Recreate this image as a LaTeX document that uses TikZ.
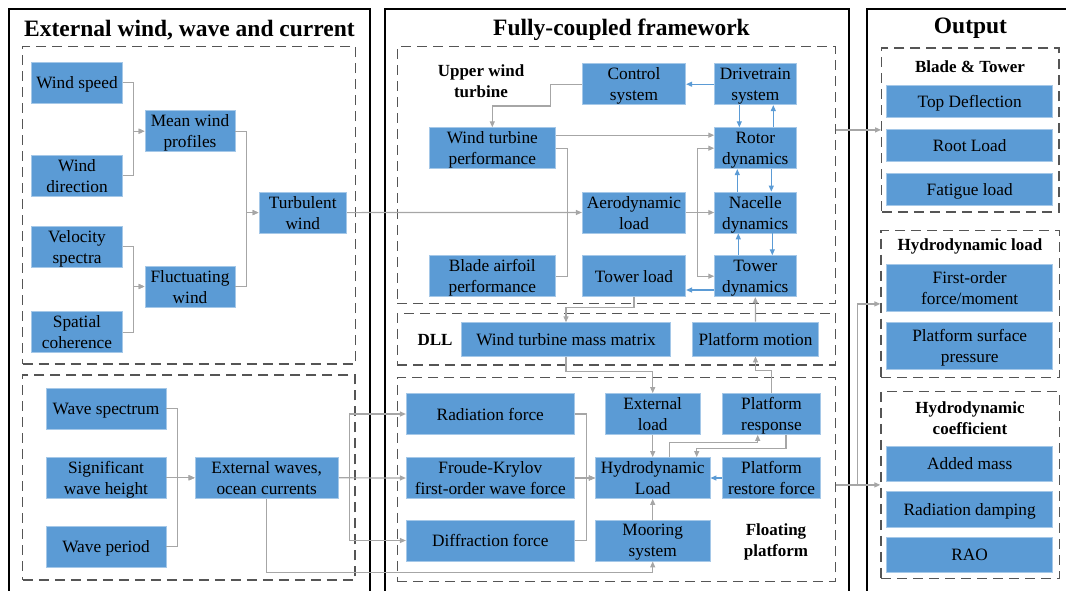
\documentclass[tikz,border=0pt]{standalone}
\usepackage{fontspec}
\setmainfont{Liberation Serif}
\usepackage{tikz}
\usetikzlibrary{calc,arrows.meta}
\definecolor{sblue}{HTML}{5B9BD5}
\definecolor{sline}{HTML}{A6A6A6}
\definecolor{sdash}{HTML}{555555}

\begin{document}
\begin{tikzpicture}[x=1pt, y=-1pt,
    BOX/.style={rectangle, fill=sblue, draw=sblue!55!white, line width=0.8pt, minimum height=41pt, inner sep=1pt, text depth=0pt, align=center, font=\fontsize{17.3}{21}\selectfont},
    FRM/.style={rectangle, draw=sdash, line width=1.4pt, dash pattern=on 10pt off 6pt, inner sep=0pt},
    PNL/.style={draw=black, line width=2pt},
    TTL/.style={font=\fontsize{23.5}{26}\selectfont\bfseries},
    LBL/.style={font=\fontsize{17}{21}\selectfont\bfseries, align=center},
    GAR/.style={draw=sline, line width=1.2pt, -{Triangle[width=5pt,length=6pt]}},
    GLN/.style={draw=sline, line width=1.2pt},
    BAR/.style={draw=sblue, line width=1.2pt, -{Triangle[width=5pt,length=6pt]}}
    ]
    \useasboundingbox (0,0) rectangle (1066,590);
    % panels
    \draw[PNL] (9,600) -- (9,8.5) -- (369.5,8.5) -- (369.5,600);
    \draw[PNL] (385,600) -- (385,8.5) -- (848.5,8.5) -- (848.5,600);
    \draw[PNL] (866.5,600) -- (866.5,8.5) -- (1070,8.5);
    \node[TTL] (t1) at (189.5,30) {External wind, wave and current};
    \node[TTL] (t2) at (621.5,30) {Fully-coupled framework};
    \node[TTL] (t3) at (970.5,28) {Output};

    % dashed groups
    \node[FRM, minimum width=333pt, minimum height=317.3pt] (wifrm) at (189.2,205.4) {};
    \node[FRM, minimum width=332.3pt, minimum height=205pt] (wafrm) at (188.9,477.5) {};
    \node[FRM, minimum width=438.4pt, minimum height=256.6pt] (upfrm) at (616.5,175) {};
    \node[FRM, minimum width=438.4pt, minimum height=51.7pt] (dlfrm) at (616.5,339.2) {};
    \node[FRM, minimum width=438.4pt, minimum height=204pt] (flfrm) at (616.5,479.7) {};
    \node[FRM, minimum width=177.3pt, minimum height=164.1pt] (btfrm) at (970.4,129.9) {};
    \node[FRM, minimum width=178.3pt, minimum height=147.2pt] (hlfrm) at (970.2,303.9) {};
    \node[FRM, minimum width=178.3pt, minimum height=186.9pt] (cofrm) at (970.2,484.9) {};
    \node[LBL] (uwt) at (481,81) {Upper wind\\turbine};
    \node[LBL] (dll) at (435,339.5) {DLL};
    \node[LBL] (fpl) at (776,542) {Floating\\platform};
    \node[LBL] (lbt) at (970,67) {Blade \& Tower};
    \node[LBL] (lhl) at (970,246.5) {Hydrodynamic load};
    \node[LBL] (lco) at (970,418.5) {Hydrodynamic\\coefficient};

    % wind
    \node[BOX, minimum width=90.6pt] (wspd) at (77,82.8) {Wind speed};
    \node[BOX, minimum width=90.6pt] (wdir) at ($(wspd)+(0,92.7)$) {Wind\\direction};
    \node[BOX, minimum width=90.6pt] (vspec) at (77,246.7) {Velocity\\spectra};
    \node[BOX, minimum width=90.6pt] (spco) at ($(vspec)+(0,85.5)$) {Spatial\\coherence};
    \node[BOX, minimum width=90pt] (meanw) at (190,131.2) {Mean wind\\profiles};
    \node[BOX, minimum width=90pt] (fluct) at (190,286.5) {Fluctuating\\wind};
    \node[BOX, minimum width=87.7pt] (turb) at (302.8,212.6) {Turbulent\\wind};

    % waves
    \node[BOX, minimum width=120pt] (wspec) at (106,408.8) {Wave spectrum};
    \node[BOX, minimum width=120pt] (sigw) at ($(wspec)+(0,69)$) {Significant\\wave height};
    \node[BOX, minimum width=120pt] (wper) at ($(sigw)+(0,68.9)$) {Wave period};
    \node[BOX, minimum width=143.3pt] (extw) at (266.7,477.8) {External waves,\\ocean currents};

    % upper wind turbine
    \node[BOX, minimum width=103.4pt] (ctrl) at (634,84.2) {Control\\system};
    \node[BOX, minimum width=81.3pt] (drive) at (755.3,84.2) {Drivetrain\\system};
    \node[BOX, minimum width=126pt] (wtp) at (492.3,148.2) {Wind turbine\\performance};
    \node[BOX, minimum width=81.3pt] (rotor) at (755.3,148.2) {Rotor\\dynamics};
    \node[BOX, minimum width=103.4pt] (aero) at (634,212.5) {Aerodynamic\\load};
    \node[BOX, minimum width=81.3pt] (nac) at (755.3,212.5) {Nacelle\\dynamics};
    \node[BOX, minimum width=126pt] (blade) at (492.3,276.2) {Blade airfoil\\performance};
    \node[BOX, minimum width=103.4pt] (towl) at (634,276.2) {Tower load};
    \node[BOX, minimum width=81.3pt] (towd) at (755.3,276.2) {Tower\\dynamics};

    % DLL
    \node[BOX, minimum width=209.4pt, minimum height=34pt] (matrix) at (566,339.7) {Wind turbine mass matrix};
    \node[BOX, minimum width=125.6pt, minimum height=34pt] (pmot) at (755.5,339) {Platform motion};

    % floating platform
    \node[BOX, minimum width=168pt] (rad) at (490.3,414) {Radiation force};
    \node[BOX, minimum width=168pt] (fk) at (490.3,478) {Froude-Krylov\\first-order wave force};
    \node[BOX, minimum width=168pt] (diff) at (490.3,540.5) {Diffraction force};
    \node[BOX, minimum width=95.6pt] (extl) at (652.7,414) {External\\load};
    \node[BOX, minimum width=98.4pt] (presp) at (771.5,414) {Platform\\response};
    \node[BOX, minimum width=114.7pt] (hydro) at (652.7,478) {Hydrodynamic\\Load};
    \node[BOX, minimum width=98.4pt] (restore) at (771.5,478) {Platform\\restore force};
    \node[BOX, minimum width=114.7pt] (moor) at (652.7,540.5) {Mooring\\system};

    % output
    \node[BOX, minimum width=166pt, minimum height=32pt] (td) at (969.7,101.6) {Top Deflection};
    \node[BOX, minimum width=166pt, minimum height=32pt] (rl) at (969.7,145.1) {Root Load};
    \node[BOX, minimum width=166pt, minimum height=32pt] (fl) at (969.7,189.1) {Fatigue load};
    \node[BOX, minimum width=166pt, minimum height=47pt] (fo) at (969.7,288.1) {First-order\\force/moment};
    \node[BOX, minimum width=166pt, minimum height=47pt] (psp) at (969.7,346) {Platform surface\\pressure};
    \node[BOX, minimum width=166pt, minimum height=35pt] (am) at (969.7,463.5) {Added mass};
    \node[BOX, minimum width=166pt, minimum height=36pt] (rd) at (969.7,509) {Radiation damping};
    \node[BOX, minimum width=166pt, minimum height=35pt] (rao) at (969.7,554.5) {RAO};

    % connectors, wind side
    \draw[GAR] (wspd.east) -- ++(11,0) |- (meanw.west);
    \draw[GAR] (wdir.east) -- ++(11,0) |- (meanw.west);
    \draw[GAR] (vspec.east) -- ++(11,0) |- (fluct.west);
    \draw[GAR] (spco.east) -- ++(11,0) |- (fluct.west);
    \draw[GAR] (meanw.east) -- ++(11,0) |- (turb.west);
    \draw[GAR] (fluct.east) -- ++(11,0) |- (turb.west);
    \draw[GAR] (turb.east) -- (aero.west);

    % wave side
    \draw[GAR] (wspec.east) -- ++(11.3,0) |- (extw.west);
    \draw[GAR] (wper.east) -- ++(11.3,0) |- (extw.west);
    \draw[GAR] (sigw.east) -- (extw.west);
    \draw[GAR] (extw.east) -- (fk.west);
    \draw[GAR] (extw.east) -- ++(11,0) |- (rad.west);
    \draw[GAR] (extw.east) -- ++(11,0) |- (diff.west);
    \draw[GAR] (extw.south) -- ++(0,73.4) -| (moor.south);

    % upper wind turbine
    \draw[GAR] (ctrl.west) -- ++(-31.6,0) -- ++(0,21.8) -| (wtp.north);
    \draw[BAR] (drive.west) -- (ctrl.east);
    \draw[BAR] ($(drive.south)+(-16,0)$) -- ($(rotor.north)+(-16,0)$);
    \draw[BAR] ($(rotor.north)+(18,0)$) -- ($(drive.south)+(18,0)$);
    \draw[BAR] ($(rotor.south)+(16,0)$) -- ($(nac.north)+(16,0)$);
    \draw[BAR] ($(nac.north)+(-18,0)$) -- ($(rotor.south)+(-18,0)$);
    \draw[BAR] ($(nac.south)+(17,0)$) -- ($(towd.north)+(17,0)$);
    \draw[BAR] ($(towd.north)+(-17,0)$) -- ($(nac.south)+(-17,0)$);
    \draw[BAR] ($(towd.west)+(0,13.8)$) -- ($(towl.east)+(0,13.8)$);
    \draw[GAR] ($(wtp.east)+(0,-13)$) -- ($(rotor.west)+(0,-13)$);
    \draw[GLN] (wtp.east) -- ++(11.4,0) |- (blade.east);
    \draw[GAR] (aero.east) -- (nac.west);
    \draw[GAR] (aero.east) -- ++(11,0) |- (rotor.west);
    \draw[GAR] (aero.east) -- ++(11,0) |- (towd.west);

    % DLL
    \draw[GAR] (towl.south) -- ++(0,10) -| (matrix.north);
    \draw[GAR] (pmot.north) -- (towd.south);
    \draw[GAR] (matrix.south) -- ++(0,14.3) -| (extl.north);
    \draw[GAR] (presp.north) -- ++(0,-22.3) -| (pmot.south);

    % floating platform
    \draw[GAR] ($(hydro.north)+(16.6,0)$) -- ++(0,-14.6) -| ($(presp.south)+(-13.8,0)$);
    \draw[GAR] ($(presp.south)+(14.5,0)$) -- ++(0,13.6) -| ($(hydro.north)+(44,0)$);
    \draw[BAR] (restore.west) -- (hydro.east);
    \draw[GAR] (extl.south) -- (hydro.north);
    \draw[GAR] (moor.north) -- (hydro.south);
    \draw[GAR] (fk.east) -- (hydro.west);
    \draw[GAR] (rad.east) -- ++(11.4,0) |- (hydro.west);
    \draw[GAR] (diff.east) -- ++(11.4,0) |- (hydro.west);

    % to output
    \draw[GAR] (upfrm.east |- btfrm.west) -- (btfrm.west);
    \draw[GAR] (flfrm.east |- cofrm.west) -- (cofrm.west);
    \draw[GAR] (flfrm.east |- cofrm.west) -- ++(21.3,0) |- (hlfrm.west);
\end{tikzpicture}
\end{document}
